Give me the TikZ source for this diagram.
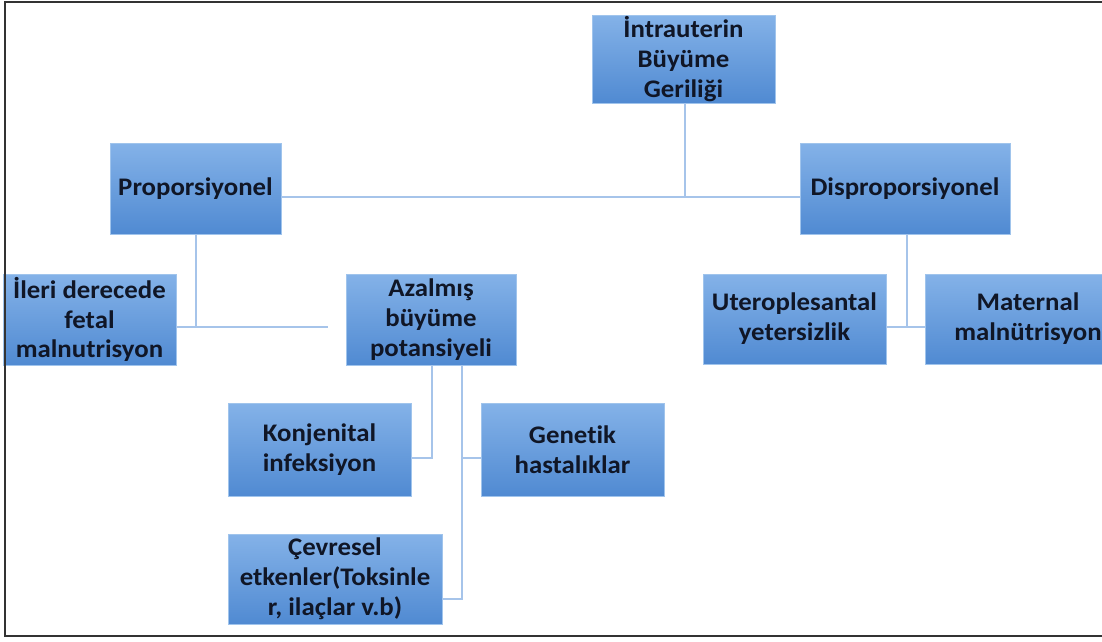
\documentclass[tikz,border=0pt]{standalone}
\usepackage{fontspec}
\newfontfamily\kutufont[FakeStretch=1.06, Ligatures={NoCommon, NoDiscretionary, NoContextual}]{Carlito}
\usetikzlibrary{positioning}

\definecolor{kutuust}{RGB}{132,178,232}
\definecolor{kutualt}{RGB}{80,138,210}
\definecolor{kutucizgi}{RGB}{160,196,236}
\definecolor{baglanti}{RGB}{166,196,234}
\definecolor{yazi}{RGB}{16,22,38}

\tikzset{
	kutu/.style={rectangle, draw=kutucizgi, line width=0.5pt, top color=kutuust, bottom color=kutualt,
		align=center, inner sep=0pt, text=yazi, font=\kutufont\bfseries\fontsize{14.4}{17}\selectfont},
	bag/.style={draw=baglanti, line width=0.6pt}
}

\begin{document}
\begin{tikzpicture}[x=0.02cm, y=-0.02cm]
	\useasboundingbox (0,0) rectangle (1102,642);
	\clip (0,0) rectangle (1102,642);

	\coordinate (orta) at (685,197);
	\coordinate (p1) at (196,327);
	\coordinate (p2) at (328,327);
	\coordinate (d1) at (907,327);
	\coordinate (a1) at (432,458);
	\coordinate (a2) at (462,458);
	\coordinate (a3) at (462,599);

	\node [kutu, minimum width=3.66cm, minimum height=1.76cm] (kok) at (683.5,59) {İntrauterin\\Büyüme\\Geriliği};
	\node [kutu, minimum width=3.42cm, minimum height=1.82cm] (prop) at (195.5,188.5) {Proporsiyonel};
	\node [kutu, minimum width=4.2cm, minimum height=1.82cm] (disprop) at (905,188.5) {Disproporsiyonel};
	\node [kutu, minimum width=3.46cm, minimum height=1.82cm] (ileri) at (89.5,319.5) {İleri derecede\\fetal\\malnutrisyon};
	\node [kutu, minimum width=3.4cm, minimum height=1.82cm] (azal) at (431,319.5) {Azalmış\\büyüme\\potansiyeli};
	\node [kutu, minimum width=3.66cm, minimum height=1.8cm] (utero) at (794.5,319) {Uteroplesantal\\yetersizlik};
	\node [kutu, minimum width=4.12cm, minimum height=1.8cm] (mater) at (1028,319) {Maternal\\malnütrisyon};
	\node [kutu, minimum width=3.66cm, minimum height=1.86cm] (konj) at (319.5,449.5) {Konjenital\\infeksiyon};
	\node [kutu, minimum width=3.66cm, minimum height=1.86cm] (genetik) at (572.5,449.5) {Genetik\\hastalıklar};
	\node [kutu, minimum width=4.28cm, minimum height=1.8cm] (cevre) at (335,579) {Çevresel\\etkenler(Toksinle\\r, ilaçlar v.b)};

	\draw [bag] (kok.south -| orta) -- (orta);
	\draw [bag] (prop.east |- orta) -- (disprop.west |- orta);
	\draw [bag] (prop.south -| p1) -- (p1);
	\draw [bag] (ileri.east |- p1) -- (p2);
	\draw [bag] (disprop.south -| d1) -- (d1);
	\draw [bag] (utero.east |- d1) -- (mater.west |- d1);
	\draw [bag] (azal.south -| a1) -- (a1) -- (konj.east |- a1);
	\draw [bag] (azal.south -| a2) -- (a3) -- (cevre.east |- a3);
	\draw [bag] (a2) -- (genetik.west |- a2);

	\draw [line width=1.6pt, draw=black!80] (1102,2) -- (5,2) -- (5,636) -- (1102,636);
\end{tikzpicture}
\end{document}
